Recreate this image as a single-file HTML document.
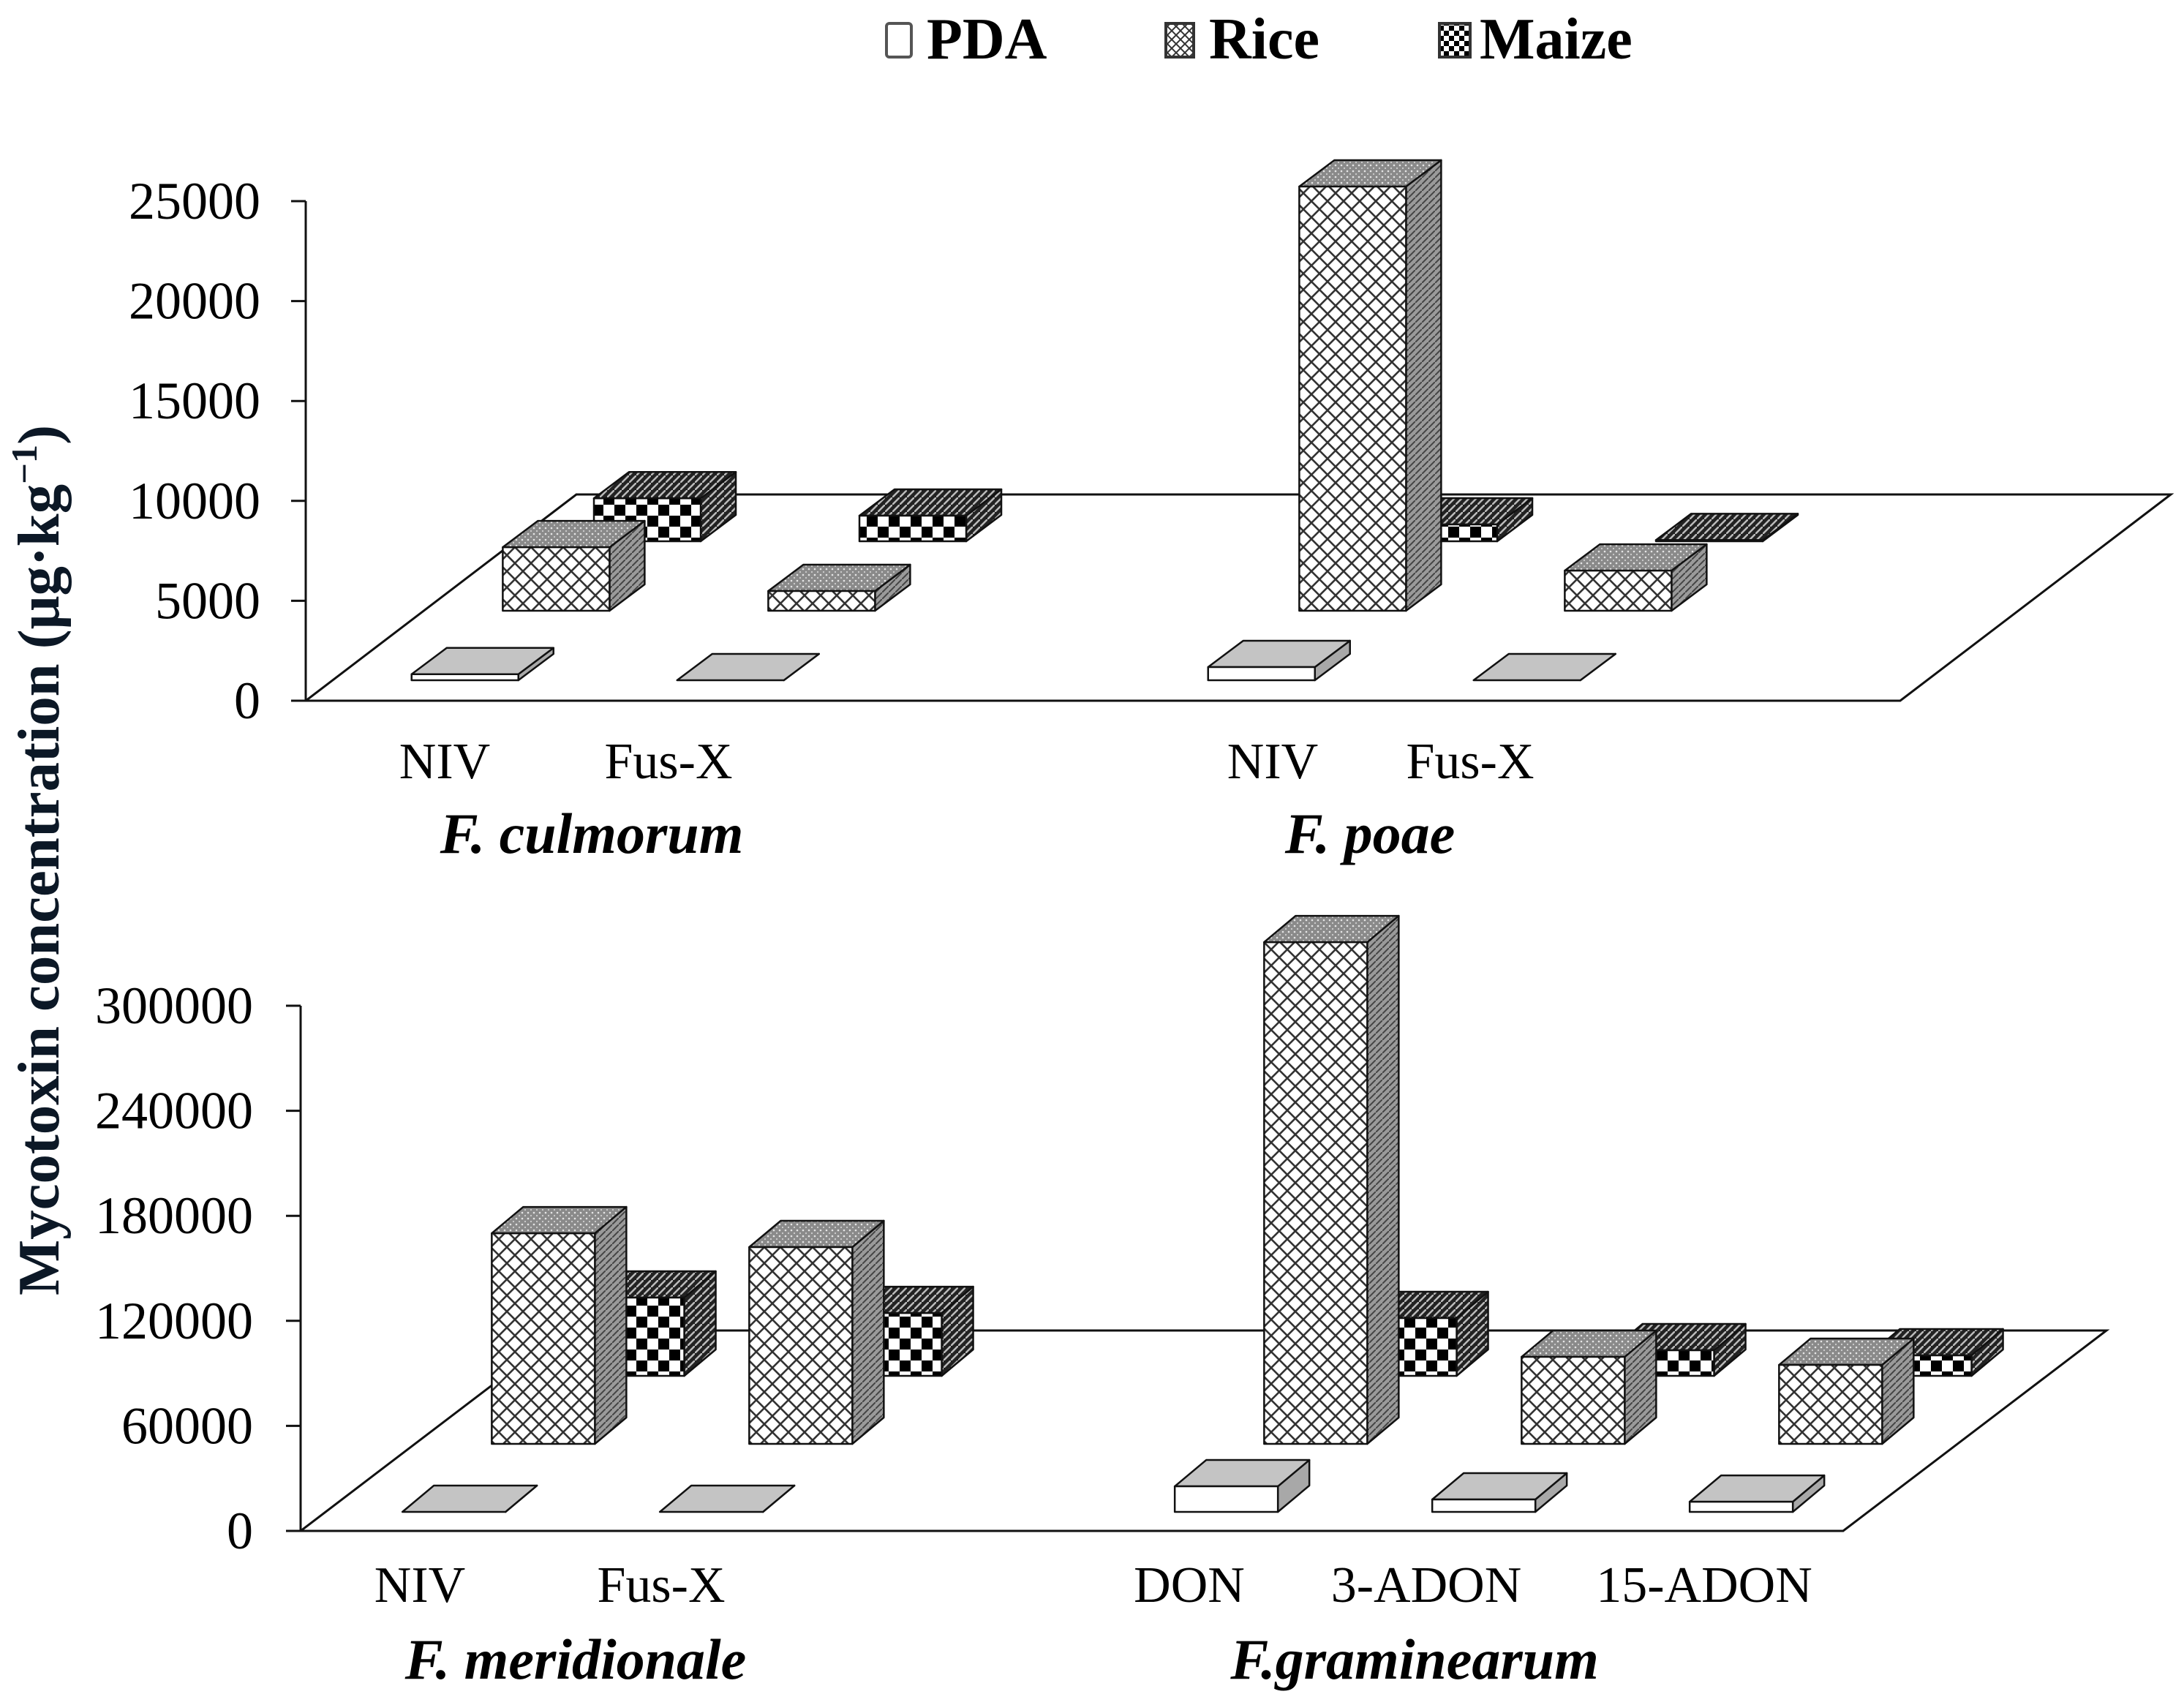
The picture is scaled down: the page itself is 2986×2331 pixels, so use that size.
<!DOCTYPE html>
<html><head><meta charset="utf-8">
<style>
html,body{margin:0;padding:0;background:#fff;}
svg{display:block;font-family:"Liberation Serif","Times New Roman",serif;}
</style></head>
<body>
<svg id="chart" width="2986" height="2331" viewBox="0 0 2986 2331" xmlns="http://www.w3.org/2000/svg">
<defs>
  <pattern id="riceFront" patternUnits="userSpaceOnUse" width="22" height="22">
    <rect width="22" height="22" fill="#fff"/>
    <path d="M0,0 L22,22 M22,0 L0,22" stroke="#333" stroke-width="2.6"/>
  </pattern>
  <pattern id="stipple" patternUnits="userSpaceOnUse" width="8" height="8">
    <rect width="8" height="8" fill="#8a8a8a"/>
    <circle cx="2" cy="2" r="1.3" fill="#e6e6e6"/>
    <circle cx="6" cy="6" r="1.1" fill="#d0d0d0"/>
  </pattern>
  <pattern id="sideHatch" patternUnits="userSpaceOnUse" width="9" height="9">
    <rect width="9" height="9" fill="#9a9a9a"/>
    <path d="M0,9 L9,0" stroke="#444" stroke-width="2"/>
  </pattern>
  <pattern id="checker" patternUnits="userSpaceOnUse" width="30" height="30">
    <rect width="30" height="30" fill="#fff"/>
    <rect width="15" height="15" fill="#000"/>
    <rect x="15" y="15" width="15" height="15" fill="#000"/>
  </pattern>
  <pattern id="darkStripe" patternUnits="userSpaceOnUse" width="10" height="10">
    <rect width="10" height="10" fill="#222"/>
    <path d="M0,10 L10,0" stroke="#bbb" stroke-width="2.5"/>
  </pattern>
  <pattern id="checkSmall" patternUnits="userSpaceOnUse" width="14" height="14">
    <rect width="14" height="14" fill="#fff"/>
    <rect width="7" height="7" fill="#000"/>
    <rect x="7" y="7" width="7" height="7" fill="#000"/>
  </pattern>
  <pattern id="riceSmall" patternUnits="userSpaceOnUse" width="12" height="12">
    <rect width="12" height="12" fill="#fff"/>
    <path d="M0,0 L12,12 M12,0 L0,12" stroke="#333" stroke-width="2"/>
  </pattern>
</defs>

<g id="legend">
  <g>
    <rect x="1212" y="32" width="34" height="46" rx="4" fill="#fff" stroke="#555" stroke-width="4"/>
    <text x="1267" y="80" font-size="80" font-weight="bold">PDA</text>
  </g>
  <g>
    <rect x="1594" y="32" width="38" height="46" fill="url(#riceSmall)" stroke="#333" stroke-width="4"/>
    <text x="1653" y="80" font-size="80" font-weight="bold">Rice</text>
  </g>
  <g>
    <rect x="1968" y="32" width="42" height="46" fill="url(#checkSmall)" stroke="#333" stroke-width="4"/>
    <text x="2023" y="80" font-size="80" font-weight="bold">Maize</text>
  </g>
</g>

<text transform="translate(80,1176) rotate(-90)" text-anchor="middle" font-size="80" font-weight="bold" fill="#0c1826" textLength="1190" lengthAdjust="spacingAndGlyphs">Mycotoxin concentration (μg·kg<tspan font-size="50" dy="-30">−1</tspan><tspan dy="30">)</tspan></text>

<g id="top-panel"></g>
<g id="bottom-panel"></g>
</svg>

<script>
// ---------- data ----------
const series = ["PDA", "Rice", "Maize"];
// top panel: F. culmorum (NIV, Fus-X), F. poae (NIV, Fus-X)
const topCategories = ["NIV", "Fus-X", "NIV", "Fus-X"];
const topSlots = [0, 1, 3, 4];
const topPDA = [300, 0, 660, 0];
const topRice = [3180, 990, 21230, 2010];
const topMaize = [2150, 1280, 840, 60];
const topTicks = [0, 5000, 10000, 15000, 20000, 25000];
// bottom panel: F. meridionale (NIV, Fus-X), F. graminearum (DON, 3-ADON, 15-ADON)
const botCategories = ["NIV", "Fus-X", "DON", "3-ADON", "15-ADON"];
const botSlots = [0, 1, 3, 4, 5];
const botPDA = [0, 0, 14600, 7100, 5800];
const botRice = [120300, 112400, 286600, 49700, 45100];
const botMaize = [44700, 35900, 33000, 14600, 11700];
const botTicks = [0, 60000, 120000, 180000, 240000, 300000];

const NS = "http://www.w3.org/2000/svg";
function mk(tag, attrs, parent) {
  const e = document.createElementNS(NS, tag);
  for (const k in attrs) e.setAttribute(k, attrs[k]);
  parent.appendChild(e);
  return e;
}

function drawPanel(g, cfg, pda, rice, maize, slots, cats, ticks, labels, groups) {
  const yScale = v => cfg.y0 - (v / cfg.max) * (cfg.y0 - cfg.yTop);
  // floor
  const floor = mk("polygon", {
    points: `${cfg.ax},${cfg.y0} ${cfg.frontRight},${cfg.y0} ${cfg.frontRight + cfg.fdx},${cfg.y0 - cfg.fdy} ${cfg.ax + cfg.fdx},${cfg.y0 - cfg.fdy}`,
    fill: "#fff", stroke: "#111", "stroke-width": 3
  }, g);
  
  
  // axis
  const axis = mk("line", {x1: cfg.ax, y1: cfg.yTop, x2: cfg.ax, y2: cfg.y0, stroke: "#111", "stroke-width": 3}, g);
  
  
  ticks.forEach(t => {
    const y = yScale(t);
    const tl = mk("line", {x1: cfg.ax - 20, y1: y, x2: cfg.ax, y2: y, stroke: "#111", "stroke-width": 3}, g);
    
    
    const tx = mk("text", {x: cfg.tickRight, y: y + 24, "text-anchor": "end", "font-size": 72}, g);
    
    
    tx.textContent = String(t);
  });
  const slope = cfg.fdx / cfg.fdy;
  const rows = [
    {vals: maize, r: 2, front: "url(#checker)", top: "url(#darkStripe)", side: "url(#darkStripe)", name: "maize"},
    {vals: rice, r: 1, front: "url(#riceFront)", top: "url(#stipple)", side: "url(#sideHatch)", name: "rice"},
    {vals: pda, r: 0, front: "#fff", top: "#c4c4c4", side: "#a8a8a8", name: "pda"}
  ];
  rows.forEach(row => {
    const off = cfg.margin + cfg.step * row.r;
    row.vals.forEach((v, i) => {
      const x0 = cfg.baseX + slots[i] * cfg.spacing + off * slope;
      const yb = cfg.y0 - off;
      const h = Math.max(0, cfg.y0 - yScale(v));
      const w = cfg.w, dx = cfg.bdx, dy = cfg.bdy;
      const bar = mk("g", {}, g);
      
      
      const st = {stroke: "#111", "stroke-width": 2.5, "stroke-linejoin": "round"};
      const side = mk("polygon", Object.assign({points: `${x0+w},${yb} ${x0+w},${yb-h} ${x0+w+dx},${yb-h-dy} ${x0+w+dx},${yb-dy}`, fill: row.side}, st), bar);
      
      
      const top = mk("polygon", Object.assign({points: `${x0},${yb-h} ${x0+w},${yb-h} ${x0+w+dx},${yb-h-dy} ${x0+dx},${yb-h-dy}`, fill: row.top}, st), bar);
      
      
      const fr = mk("rect", Object.assign({x: x0, y: yb - h, width: w, height: h, fill: row.front}, st), bar);
      
      
    });
  });
  labels.forEach(l => {
    const t = mk("text", {x: l.x, y: l.y, "text-anchor": "middle", "font-size": 70}, g);
    
    
    t.textContent = l.t;
  });
  groups.forEach(l => {
    const t = mk("text", {x: l.x, y: l.y, "text-anchor": "middle", "font-size": 78, "font-weight": "bold", "font-style": "italic"}, g);
    
    
    t.textContent = l.t;
  });
}

drawPanel(document.getElementById("top-panel"),
  {ax: 418, y0: 958, yTop: 275, max: 25000, frontRight: 2598, fdx: 370, fdy: 282,
   margin: 28, step: 95, baseX: 526, spacing: 363, w: 146, bdx: 48, bdy: 36, tickRight: 356},
  topPDA, topRice, topMaize, topSlots, topCategories, topTicks,
  [{t: "NIV", x: 608, y: 1064}, {t: "Fus-X", x: 914, y: 1064}, {t: "NIV", x: 1740, y: 1064}, {t: "Fus-X", x: 2010, y: 1064}],
  [{t: "F. culmorum", x: 809, y: 1166}, {t: "F. poae", x: 1873, y: 1166}]);

drawPanel(document.getElementById("bottom-panel"),
  {ax: 411, y0: 2093, yTop: 1375, max: 300000, frontRight: 2520, fdx: 360, fdy: 274,
   margin: 26, step: 93, baseX: 516, spacing: 352, w: 141, bdx: 43, bdy: 36, tickRight: 346},
  botPDA, botRice, botMaize, botSlots, botCategories, botTicks,
  [{t: "NIV", x: 574, y: 2190}, {t: "Fus-X", x: 904, y: 2190}, {t: "DON", x: 1626, y: 2190}, {t: "3-ADON", x: 1950, y: 2190}, {t: "15-ADON", x: 2330, y: 2190}],
  [{t: "F. meridionale", x: 787, y: 2295}, {t: "F.graminearum", x: 1934, y: 2295}]);
</script>
</body></html>
